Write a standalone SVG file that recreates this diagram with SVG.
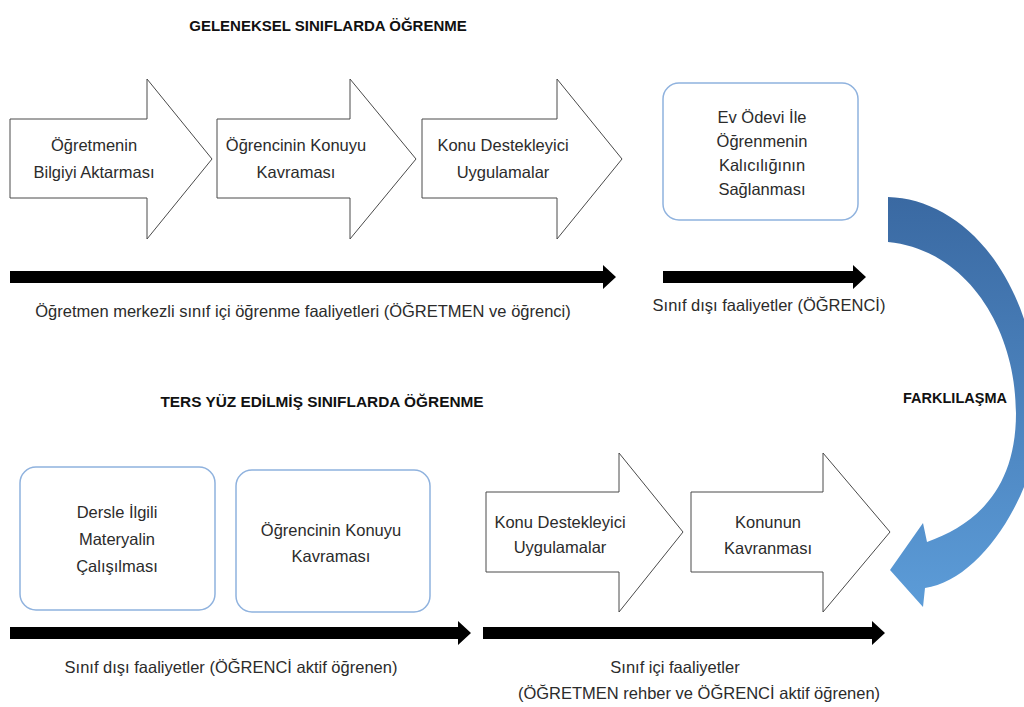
<svg xmlns="http://www.w3.org/2000/svg" width="1024" height="707" viewBox="0 0 1024 707">
  <defs>
    <linearGradient id="blueGrad" x1="0" y1="0" x2="0" y2="1">
      <stop offset="0" stop-color="#3a69a2"/>
      <stop offset="1" stop-color="#5c9cd8"/>
    </linearGradient>
  </defs>
  <style>
    .blk { fill: #ffffff; stroke: #4a4a4a; stroke-width: 1; }
    .box { fill: #ffffff; stroke: #8fb2de; stroke-width: 1.5; }
    .t { font-family: "Liberation Sans", Arial, sans-serif; font-size: 16.5px; fill: #2b2b2b; text-anchor: middle; }
    .h { font-family: "Liberation Sans", Arial, sans-serif; font-size: 15px; font-weight: bold; fill: #111111; text-anchor: middle; }
    .thick { fill: #000000; }
  </style>

  <rect width="1024" height="707" fill="#ffffff"/>

  <!-- Titles -->
  <text id="title-traditional" class="h" x="328" y="31">GELENEKSEL SINIFLARDA ÖĞRENME</text>
  <text id="title-flipped" class="h" x="322" y="407" style="font-size:15.4px">TERS YÜZ EDİLMİŞ SINIFLARDA ÖĞRENME</text>

  <!-- Top row nodes -->
  <g id="n-top1">
    <path class="blk" d="M10,119 H147 V79 L212,159 L147,239 V198 H10 Z"/>
    <text class="t" x="94" y="151">Öğretmenin</text>
    <text class="t" x="94" y="178">Bilgiyi Aktarması</text>
  </g>
  <g id="n-top2">
    <path class="blk" d="M217,119 H350 V79 L416,159 L350,239 V198 H217 Z"/>
    <text class="t" x="296" y="151">Öğrencinin Konuyu</text>
    <text class="t" x="296" y="178">Kavraması</text>
  </g>
  <g id="n-top3">
    <path class="blk" d="M422,119 H557 V79 L622,159 L557,239 V198 H422 Z"/>
    <text class="t" x="503" y="151">Konu Destekleyici</text>
    <text class="t" x="503" y="178">Uygulamalar</text>
  </g>
  <g id="n-top4">
    <rect class="box" x="663" y="83" width="195" height="137" rx="16" ry="16"/>
    <text class="t" x="762" y="123">Ev Ödevi İle</text>
    <text class="t" x="762" y="147">Öğrenmenin</text>
    <text class="t" x="762" y="171">Kalıcılığının</text>
    <text class="t" x="762" y="195">Sağlanması</text>
  </g>

  <!-- Bottom row nodes -->
  <g id="n-bot1">
    <rect class="box" x="20" y="467" width="195" height="143" rx="16" ry="16"/>
    <text class="t" x="117" y="518">Dersle İlgili</text>
    <text class="t" x="117" y="545">Materyalin</text>
    <text class="t" x="117" y="572">Çalışılması</text>
  </g>
  <g id="n-bot2">
    <rect class="box" x="236" y="470" width="194" height="142" rx="16" ry="16"/>
    <text class="t" x="331" y="536">Öğrencinin Konuyu</text>
    <text class="t" x="331" y="562">Kavraması</text>
  </g>
  <g id="n-bot3">
    <path class="blk" d="M486,492 H619 V453 L683,532 L619,612 V572 H486 Z"/>
    <text class="t" x="560" y="528">Konu Destekleyici</text>
    <text class="t" x="560" y="553">Uygulamalar</text>
  </g>
  <g id="n-bot4">
    <path class="blk" d="M691,492 H823 V453 L890,532 L823,612 V572 H691 Z"/>
    <text class="t" x="768" y="528">Konunun</text>
    <text class="t" x="768" y="554">Kavranması</text>
  </g>

  <!-- Connectors / timeline arrows -->
  <g id="connectors">
    <path class="thick" d="M10,271 H603 V265 L616,277 L603,289 V283 H10 Z"/>
    <path class="thick" d="M663,271 H853 V265 L866,277 L853,289 V283 H663 Z"/>
    <path class="thick" d="M10,627 H458 V621 L471,633 L458,645 V639 H10 Z"/>
    <path class="thick" d="M483,627 H872 V621 L885,633 L872,645 V639 H483 Z"/>
    <path id="curved-arrow" fill="url(#blueGrad)" d="M888,197 C960,199 1030,270 1040,400 C1045,480 985,580 925,588 L923,607 L890,570 L923,523 L927,542 C975,525 1016,490 1016,413 C1016,330 968,250 888,242 Z"/>
  </g>

  <text id="label-diff" class="h" x="955" y="403" style="font-size:14.5px">FARKLILAŞMA</text>

  <!-- Timeline labels -->
  <text class="t" x="303" y="317">Öğretmen merkezli sınıf içi öğrenme faaliyetleri (ÖĞRETMEN ve öğrenci)</text>
  <text class="t" x="769" y="311">Sınıf dışı faaliyetler (ÖĞRENCİ)</text>
  <text class="t" x="231" y="673">Sınıf dışı faaliyetler (ÖĞRENCİ aktif öğrenen)</text>
  <text class="t" x="675" y="673">Sınıf içi faaliyetler</text>
  <text class="t" x="699" y="699">(ÖĞRETMEN rehber ve ÖĞRENCİ aktif öğrenen)</text>
</svg>
